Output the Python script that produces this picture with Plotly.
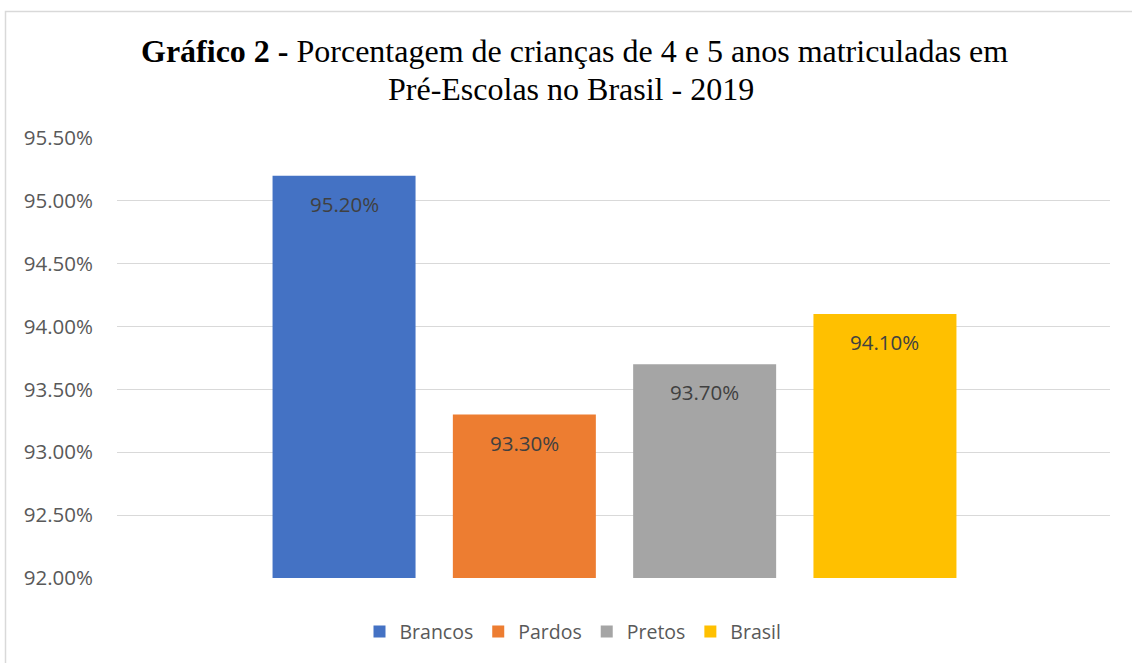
import plotly.graph_objects as go

categories = ["Brancos", "Pardos", "Pretos", "Brasil"]
values = [95.20, 93.30, 93.70, 94.10]
colors = ["#4472C4", "#ED7D31", "#A5A5A5", "#FFC000"]
tick_vals = [92.0, 92.5, 93.0, 93.5, 94.0, 94.5, 95.0, 95.5]
tick_text = ["%.2f%%" % v for v in tick_vals]
title_line1 = "<b>Gráfico 2 -</b> Porcentagem de crianças de 4 e 5 anos matriculadas em"
title_line2 = "Pré-Escolas no Brasil - 2019"

W, H = 1132, 663
L, R, T, B = 117, 22, 138, 83
pw = W - L - R
ph = H - T - B

slot_px = 180.3           # distance between bar starts
bar_px = 143.0            # bar width
units = pw / slot_px
center = (len(categories) - 1) / 2 - 1.0 / slot_px

fig = go.Figure()
for i, (name, v, c) in enumerate(zip(categories, values, colors)):
    fig.add_trace(go.Bar(
        x=[i], y=[v], name=name, width=bar_px / slot_px,
        marker=dict(color=c, line=dict(width=0)),
        hoverinfo="skip",
    ))
    fig.add_annotation(
        x=i, y=v, xref="x", yref="y", text="%.2f%%" % v, showarrow=False,
        yanchor="middle", yshift=-28,
        font=dict(family="Open Sans", size=20.5, color="#404040"),
    )

def py(px):
    return (H - B - px) / ph

fig.add_annotation(x=(574 - L) / pw, y=py(51), xref="paper", yref="paper",
                   text=title_line1, showarrow=False, xanchor="center", yanchor="middle",
                   font=dict(family="Liberation Serif", size=32, color="black"))
fig.add_annotation(x=(571 - L) / pw, y=py(89), xref="paper", yref="paper",
                   text=title_line2, showarrow=False, xanchor="center", yanchor="middle",
                   font=dict(family="Liberation Serif", size=32, color="black"))

fig.update_layout(
    width=W, height=H,
    margin=dict(l=L, r=R, t=T, b=B),
    paper_bgcolor="white", plot_bgcolor="white",
    font=dict(family="Open Sans", size=20, color="#595959"),
    xaxis=dict(range=[center - units / 2, center + units / 2], showticklabels=False,
               showgrid=False, zeroline=False, showline=False, ticks=""),
    yaxis=dict(
        range=[92, 95.5], tickvals=tick_vals, ticktext=tick_text,
        showgrid=True, gridcolor="#D9D9D9", gridwidth=1, zeroline=False,
        showline=False, ticks="", ticklabelstandoff=23,
        tickfont=dict(family="Open Sans", size=20.5, color="#595959"),
    ),
    legend=dict(
        orientation="h", x=(573 - L) / pw, xanchor="center", y=py(634), yanchor="middle",
        font=dict(family="Open Sans", size=19.5, color="#595959"),
        itemwidth=30, traceorder="normal",
    ),
    showlegend=True,
    shapes=[dict(
        type="rect", xref="paper", yref="paper",
        x0=(5.5 - L) / pw, x1=(W + 10 - L) / pw,
        y0=py(H + 10), y1=py(11),
        line=dict(color="#D9D9D9", width=1.5), fillcolor="rgba(0,0,0,0)", layer="below",
    )],
)

fig.write_html("out.html", config={"displayModeBar": False},
               post_script="document.body.style.margin='0';")
